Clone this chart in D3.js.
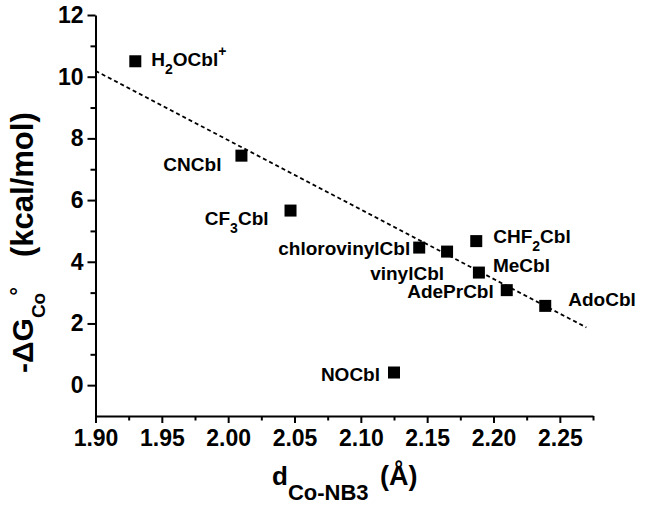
<!DOCTYPE html>
<html>
<head>
<meta charset="utf-8">
<script src="https://cdn.jsdelivr.net/npm/d3@7"></script>
<style>
  body { margin: 0; background: #fff; }
  svg { display: block; font-family: "Liberation Sans", Arial, sans-serif; font-weight: bold; }
  .axis text { font-size: 23px; font-weight: bold; font-family: "Liberation Sans", Arial, sans-serif; }
</style>
</head>
<body>
<svg id="chart" width="645" height="506"></svg>
<script>
// compounds: "_x" = subscript char, "^x" = superscript char
const compounds = ["H_2OCbl^+", "CNCbl", "CF_3Cbl", "chlorovinylCbl", "vinylCbl",
                   "CHF_2Cbl", "MeCbl", "AdePrCbl", "AdoCbl", "NOCbl"];
const dCoN = [1.930, 2.010, 2.047, 2.144, 2.165, 2.187, 2.189, 2.210, 2.239, 2.125];
const dG   = [10.50, 7.44, 5.66, 4.46, 4.33, 4.67, 3.65, 3.08, 2.57, 0.41];

// dashed linear fit, end points
const fitX = [1.90, 2.27];
const fitY = [10.19, 1.87];

const xTicks = [1.90, 1.95, 2.00, 2.05, 2.10, 2.15, 2.20, 2.25];
const xMinor = [1.925, 1.975, 2.025, 2.075, 2.125, 2.175, 2.225, 2.275];
const yTicks = [0, 2, 4, 6, 8, 10, 12];
const yMinor = [1, 3, 5, 7, 9, 11];

// label placement relative to each marker: [dx, dy, anchor]
const labelPos = [[16, 5, "start"], [-20, 15, "end"], [-22, 14, "end"], [-9, 7, "end"],
                  [-3, 28, "end"], [17, 2, "start"], [14, -1, "start"], [-13, 8, "end"],
                  [23, 0, "start"], [-14, 8, "end"]];

const svg = d3.select("#chart");
svg.append("rect").attr("width", 645).attr("height", 506).attr("fill", "#fff");

const x = d3.scaleLinear().domain([1.90, 2.275]).range([95.5, 593]);
const y = d3.scaleLinear().domain([-1, 12]).range([416, 15]);

// axes
function styleAxis(g) {
  g.attr("class", "axis").attr("font-size", 23).attr("font-family", null);
  g.select(".domain").attr("stroke", "#000").attr("stroke-width", 2);
  g.selectAll(".tick line").attr("stroke", "#000").attr("stroke-width", 2);
  g.selectAll("text").attr("fill", "#000");
}

svg.append("g").attr("transform", "translate(0,416)")
  .call(d3.axisBottom(x).tickValues(xTicks).tickFormat(d3.format(".2f"))
    .tickSize(7).tickSizeOuter(0).tickPadding(7))
  .call(styleAxis);
svg.append("g").attr("transform", "translate(0,416)")
  .call(d3.axisBottom(x).tickValues(xMinor).tickFormat("").tickSize(4.5).tickSizeOuter(0))
  .call(styleAxis).select(".domain").remove();

svg.append("g").attr("transform", "translate(95.5,0)")
  .call(d3.axisLeft(y).tickValues(yTicks).tickFormat(d3.format("d"))
    .tickSize(8).tickSizeOuter(0).tickPadding(4))
  .call(styleAxis);
svg.append("g").attr("transform", "translate(95.5,0)")
  .call(d3.axisLeft(y).tickValues(yMinor).tickFormat("").tickSize(5).tickSizeOuter(0))
  .call(styleAxis).select(".domain").remove();

// fit line
svg.append("path")
  .datum(d3.zip(fitX, fitY))
  .attr("d", d3.line().x(d => x(d[0])).y(d => y(d[1])))
  .attr("fill", "none")
  .attr("stroke", "#000")
  .attr("stroke-width", 1.8)
  .attr("stroke-dasharray", "4,3");

// points
const pts = d3.range(compounds.length).map(i => ({name: compounds[i], x: dCoN[i], y: dG[i], pos: labelPos[i]}));
const sq = 12;
svg.selectAll("rect.pt").data(pts).enter().append("rect")
  .attr("class", "pt")
  .attr("x", d => x(d.x) - sq / 2)
  .attr("y", d => y(d.y) - sq / 2)
  .attr("width", sq).attr("height", sq)
  .attr("fill", "#000");

// labels with sub/superscripts
function addRich(textSel, s, size, subSize, subShift, supShift) {
  let cur = 0;
  let i = 0;
  while (i < s.length) {
    let ch = s[i], kind = "n";
    if ((ch === "_" || ch === "^") && i + 1 < s.length) { kind = ch; ch = s[i + 1]; i += 2; }
    else {
      let j = i;
      while (j < s.length && s[j] !== "_" && s[j] !== "^") j++;
      ch = s.slice(i, j); i = j;
    }
    const target = kind === "_" ? subShift : kind === "^" ? -supShift : 0;
    textSel.append("tspan")
      .attr("dy", target - cur)
      .style("font-size", (kind === "n" ? size : subSize) + "px")
      .text(ch);
    cur = target;
  }
}

svg.selectAll("text.lbl").data(pts).enter().append("text")
  .attr("class", "lbl")
  .attr("x", d => x(d.x) + d.pos[0])
  .attr("y", d => y(d.y) + d.pos[1])
  .attr("text-anchor", d => d.pos[2])
  .attr("fill", "#000")
  .each(function(d) { addRich(d3.select(this), d.name, 19, 14, 8, 10); });

// x axis title
const xt = svg.append("text").attr("x", 272).attr("y", 485).attr("fill", "#000");
xt.append("tspan").style("font-size", "26px").text("d");
xt.append("tspan").attr("dy", 15).style("font-size", "22px").text("Co-NB3");
xt.append("tspan").attr("x", 380).attr("dy", -15).style("font-size", "27px").text("(Å)");

// y axis title
const yt = svg.append("text").attr("transform", "translate(33,373) rotate(-90)").attr("fill", "#000");
yt.append("tspan").style("font-size", "30px").text("-ΔG");
yt.append("tspan").attr("dy", 12).style("font-size", "19px").text("Co");
yt.append("tspan").attr("dx", -3).attr("dy", -19).style("font-size", "22px").text("°");
yt.append("tspan").attr("x", 116).attr("dy", 7).style("font-size", "31px").text("(kcal/mol)");
</script>
</body>
</html>
